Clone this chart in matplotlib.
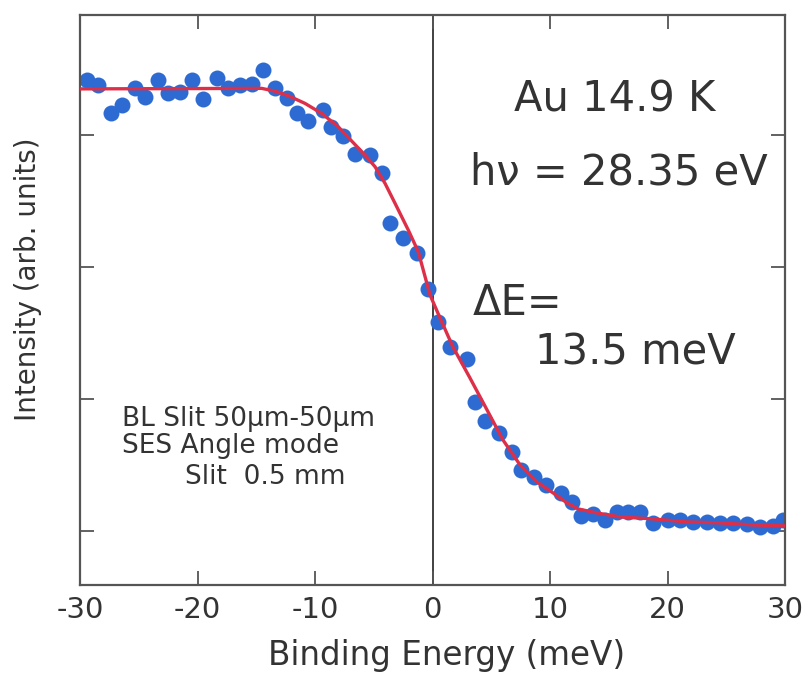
import matplotlib
matplotlib.use("Agg")
import matplotlib.pyplot as plt

plt.rcParams['font.family'] = ['DejaVu Sans']

# Measured photoemission intensity across the Fermi edge
energy = [-29.4, -28.5, -27.4, -26.4, -25.3, -24.5, -23.4, -22.5, -21.5, -20.5,
          -19.5, -18.3, -17.4, -16.4, -15.4, -14.4, -13.4, -12.4, -11.5, -10.6,
          -9.3, -8.6, -7.6, -6.6, -5.3, -4.3, -3.6, -2.5, -1.3, -0.4,
          0.5, 1.5, 2.9, 3.6, 4.5, 5.7, 6.8, 7.5, 8.6, 9.7,
          10.9, 11.9, 12.6, 13.7, 14.7, 15.7, 16.6, 17.7, 18.8, 20.0,
          21.1, 22.2, 23.4, 24.5, 25.6, 26.8, 27.9, 29.0, 29.8]
intensity = [4.42, 4.38, 4.17, 4.23, 4.36, 4.29, 4.42, 4.32, 4.33, 4.42,
             4.27, 4.43, 4.36, 4.38, 4.39, 4.49, 4.36, 4.28, 4.17, 4.11,
             4.19, 4.06, 3.99, 3.86, 3.85, 3.71, 3.33, 3.22, 3.11, 2.83,
             2.58, 2.39, 2.30, 1.98, 1.83, 1.74, 1.60, 1.46, 1.41, 1.35,
             1.29, 1.22, 1.11, 1.13, 1.08, 1.14, 1.14, 1.14, 1.06, 1.08,
             1.08, 1.07, 1.07, 1.06, 1.06, 1.05, 1.03, 1.04, 1.08]

# Fitted Fermi-edge curve
fit_energy = [-30.0, -14.54, -13.40, -12.27, -10.85, -9.43, -8.02, -6.88, -5.74,
              -4.89, -4.04, -3.19, -2.06, -1.21, -0.21, 0.64, 1.74, 3.19, 4.64,
              6.00, 7.45, 8.89, 10.26, 11.45, 12.38, 14.0, 15.96, 18.77, 21.66,
              24.47, 27.28, 30.0]
fit_intensity = [4.35, 4.354, 4.333, 4.298, 4.240, 4.164, 4.063, 3.955, 3.848,
                 3.760, 3.634, 3.483, 3.280, 3.116, 2.788, 2.614, 2.394, 2.159,
                 1.917, 1.689, 1.500, 1.371, 1.288, 1.212, 1.167, 1.136, 1.106,
                 1.091, 1.068, 1.061, 1.045, 1.038]

xticks = [-30, -20, -10, 0, 10, 20, 30]
xtick_labels = ['-30', '-20', '-10', '0', '10', '20', '30']
yticks = [1, 2, 3, 4]

text_color = '#333333'
spine_color = '#555555'

fig = plt.figure(figsize=(8.08, 6.74), dpi=100)
ax = fig.add_axes([80 / 808, 89 / 674, 705 / 808, 570 / 674])

ax.axvline(0, color='#333333', lw=1.3, zorder=1)
ax.plot(energy, intensity, 'o', color='#2d6bd2', ms=11.5, mec='none', zorder=2)
ax.plot(fit_energy, fit_intensity, '-', color='#de2f48', lw=2.4, zorder=3)

ax.set_xlim(-30, 30)
ax.set_ylim(0.59, 4.91)
ax.set_xticks(xticks)
ax.set_xticklabels(xtick_labels)
ax.set_yticks(yticks)
ax.set_yticklabels([])

ax.tick_params(axis='both', direction='in', length=10, width=1.3,
               color=spine_color, top=True, right=True,
               labelsize=21, labelcolor=text_color, pad=8)
for s in ax.spines.values():
    s.set_color(spine_color)
    s.set_linewidth(1.6)

ax.set_xlabel('Binding Energy (meV)', fontsize=23.5, color=text_color)
ax.xaxis.set_label_coords(0.52, -0.095)
ax.set_ylabel('Intensity (arb. units)', fontsize=20, color=text_color)
ax.yaxis.set_label_coords(-0.054, 0.537)

big = dict(fontsize=30, color=text_color)
ax.text(15.5, 4.27, 'Au 14.9 K', ha='center', va='center', **big)
ax.text(15.9, 3.72, 'h\u03bd = 28.35 eV', ha='center', va='center', **big)
ax.text(3.45, 2.73, '\u0394E=', ha='left', va='center', **big)
ax.text(8.7, 2.35, '13.5 meV', ha='left', va='center', **big)

small = dict(fontsize=19, color=text_color, ha='left', va='center')
ax.text(-26.4, 1.85, 'BL Slit 50\u00b5m-50\u00b5m', **small)
ax.text(-26.4, 1.64, 'SES Angle mode', **small)
ax.text(-21.1, 1.41, 'Slit  0.5 mm', **small)

fig.savefig('out.png', dpi=100)
